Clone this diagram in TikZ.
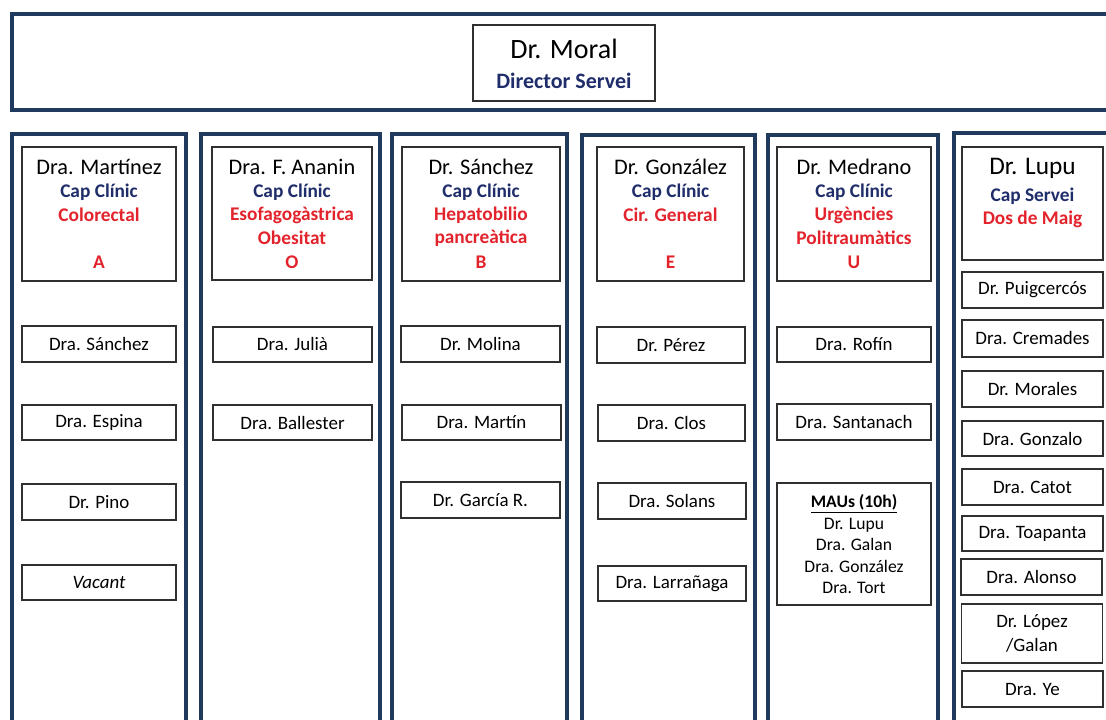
\documentclass[tikz,border=0pt]{standalone}
\usepackage{fontspec}
\setmainfont{Carlito}
\definecolor{frame}{HTML}{1F3A5C}
\definecolor{capblue}{HTML}{1F2D6B}
\definecolor{secred}{HTML}{E3232C}
\definecolor{boxline}{HTML}{303030}
\tikzset{
  colframe/.style={draw=frame,line width=3pt},
  box/.style={draw=boxline,line width=1.1pt,inner sep=0pt},
  staff/.style={box,font=\fontsize{14.2}{16}\selectfont},
  captxt/.style={font=\bfseries\fontsize{14.5}{18}\selectfont,text=capblue},
  sectxt/.style={font=\bfseries\fontsize{14.5}{18}\selectfont,text=secred},
}
\newcommand{\staffbox}[6]{% name, x1, y1, x2, y2, text
  \node[staff,minimum width={(#4-#2)*0.75pt},minimum height={(#5-#3)*0.75pt}] (#1) at ({(#2+#4)/2},{(#3+#5)/2}) {#6};}
\newcommand{\hdrtext}[6]{% x, name, l3, l4, l5, id
  \node[font=\fontsize{16.7}{20}\selectfont] (#6n) at (#1,167) {#2};
  \node[captxt] (#6c) at (#1,192) {Cap Clínic};
  \node[sectxt] (#6s) at (#1,215) {#3};
  \node[sectxt] (#6t) at (#1,238) {#4};
  \node[sectxt] (#6u) at (#1,262) {#5};}
\begin{document}
\begin{tikzpicture}[x=0.75pt,y=-0.75pt]
\useasboundingbox (0,0) rectangle (1106,720);
\fill[white] (0,0) rectangle (1106,720);
% frames
\draw[colframe] (12,14) rectangle (1120,110);
\draw[colframe] (12,134) rectangle (186,740);
\draw[colframe] (201,134) rectangle (380,740);
\draw[colframe] (392,134) rectangle (567,740);
\draw[colframe] (582,135) rectangle (755,740);
\draw[colframe] (768,135) rectangle (938,740);
\draw[colframe] (954,133) rectangle (1120,740);
% director
\node[box,minimum width={182*0.75pt},minimum height={76*0.75pt}] (moral) at (564,63) {};
\node[font=\fontsize{21}{24}\selectfont] (moraln) at (564,49) {Dr. Moral};
\node[font=\bfseries\fontsize{16.5}{18}\selectfont,text=capblue] (moralc) at (564,81) {Director Servei};
% header boxes
\staffbox{hA}{22}{147}{176}{281}{}
\staffbox{hO}{212}{147}{372}{280}{}
\staffbox{hB}{402}{147}{560}{281}{}
\staffbox{hE}{597}{147}{744}{281}{}
\staffbox{hU}{777}{147}{931}{281}{}
\staffbox{hL}{962}{147}{1103}{260}{}
\hdrtext{99}{Dra. Martínez}{Colorectal}{}{A}{tA}
\hdrtext{292}{Dra. F. Ananin}{Esofagogàstrica}{Obesitat}{O}{tO}
\hdrtext{481}{Dr. Sánchez}{Hepatobilio}{pancreàtica}{B}{tB}
\hdrtext{670.5}{Dr. González}{Cir. General}{}{E}{tE}
\hdrtext{854}{Dr. Medrano}{Urgències}{Politraumàtics}{U}{tU}
\node[font=\fontsize{19}{22}\selectfont] (tLn) at (1032.5,168) {Dr. Lupu};
\node[captxt] (tLc) at (1032.5,196) {Cap Servei};
\node[sectxt] (tLs) at (1032.5,219) {Dos de Maig};
% column A
\staffbox{a1}{22}{326}{176}{362}{Dra. Sánchez}
\staffbox{a2}{22}{405}{176}{440}{Dra. Espina}
\staffbox{a3}{22}{484}{176}{520}{Dr. Pino}
\staffbox{a4}{22}{565}{176}{600}{\itshape Vacant}
% column O
\staffbox{o1}{213}{327}{372}{362}{Dra. Julià}
\staffbox{o2}{213}{405}{372}{440}{Dra. Ballester}
% column B
\staffbox{b1}{401}{326}{560}{362}{Dr. Molina}
\staffbox{b2}{402}{405}{561}{440}{Dra. Martín}
\staffbox{b3}{401}{482}{560}{518}{Dr. García R.}
% column E
\staffbox{e1}{597}{327}{745}{363}{Dr. Pérez}
\staffbox{e2}{598}{405}{745}{441}{Dra. Clos}
\staffbox{e3}{598}{483}{746}{519}{Dra. Solans}
\staffbox{e4}{598}{566}{746}{601}{Dra. Larrañaga}
% column U
\staffbox{u1}{777}{327}{931}{362}{Dra. Rofín}
\staffbox{u2}{777}{404}{931}{440}{Dra. Santanach}
\staffbox{u3}{777}{483}{931}{605}{}
\node[align=center,font=\fontsize{13.2}{16.1}\selectfont,anchor=north] (maus) at (854,490) {\bfseries\underline{MAUs (10h)}\\Dr. Lupu\\Dra. Galan\\Dra. González\\Dra. Tort};
% column L
\staffbox{l1}{962}{272}{1103}{308}{Dr. Puigcercós}
\staffbox{l2}{962}{320}{1103}{357}{Dra. Cremades}
\staffbox{l3}{962}{371}{1103}{407}{Dr. Morales}
\staffbox{l4}{962}{421}{1103}{456}{Dra. Gonzalo}
\staffbox{l5}{962}{469}{1103}{505}{Dra. Catot}
\staffbox{l6}{962}{516}{1103}{551}{Dra. Toapanta}
\staffbox{l7}{961}{559}{1102}{595}{Dra. Alonso}
\node[staff,align=center,minimum width={141*0.75pt},minimum height={59*0.75pt},font=\fontsize{14.2}{18}\selectfont] (l8) at (1032,633.5) {Dr. López\\/Galan};
\staffbox{l9}{962}{671}{1103}{707}{Dra. Ye}
\end{tikzpicture}
\end{document}
